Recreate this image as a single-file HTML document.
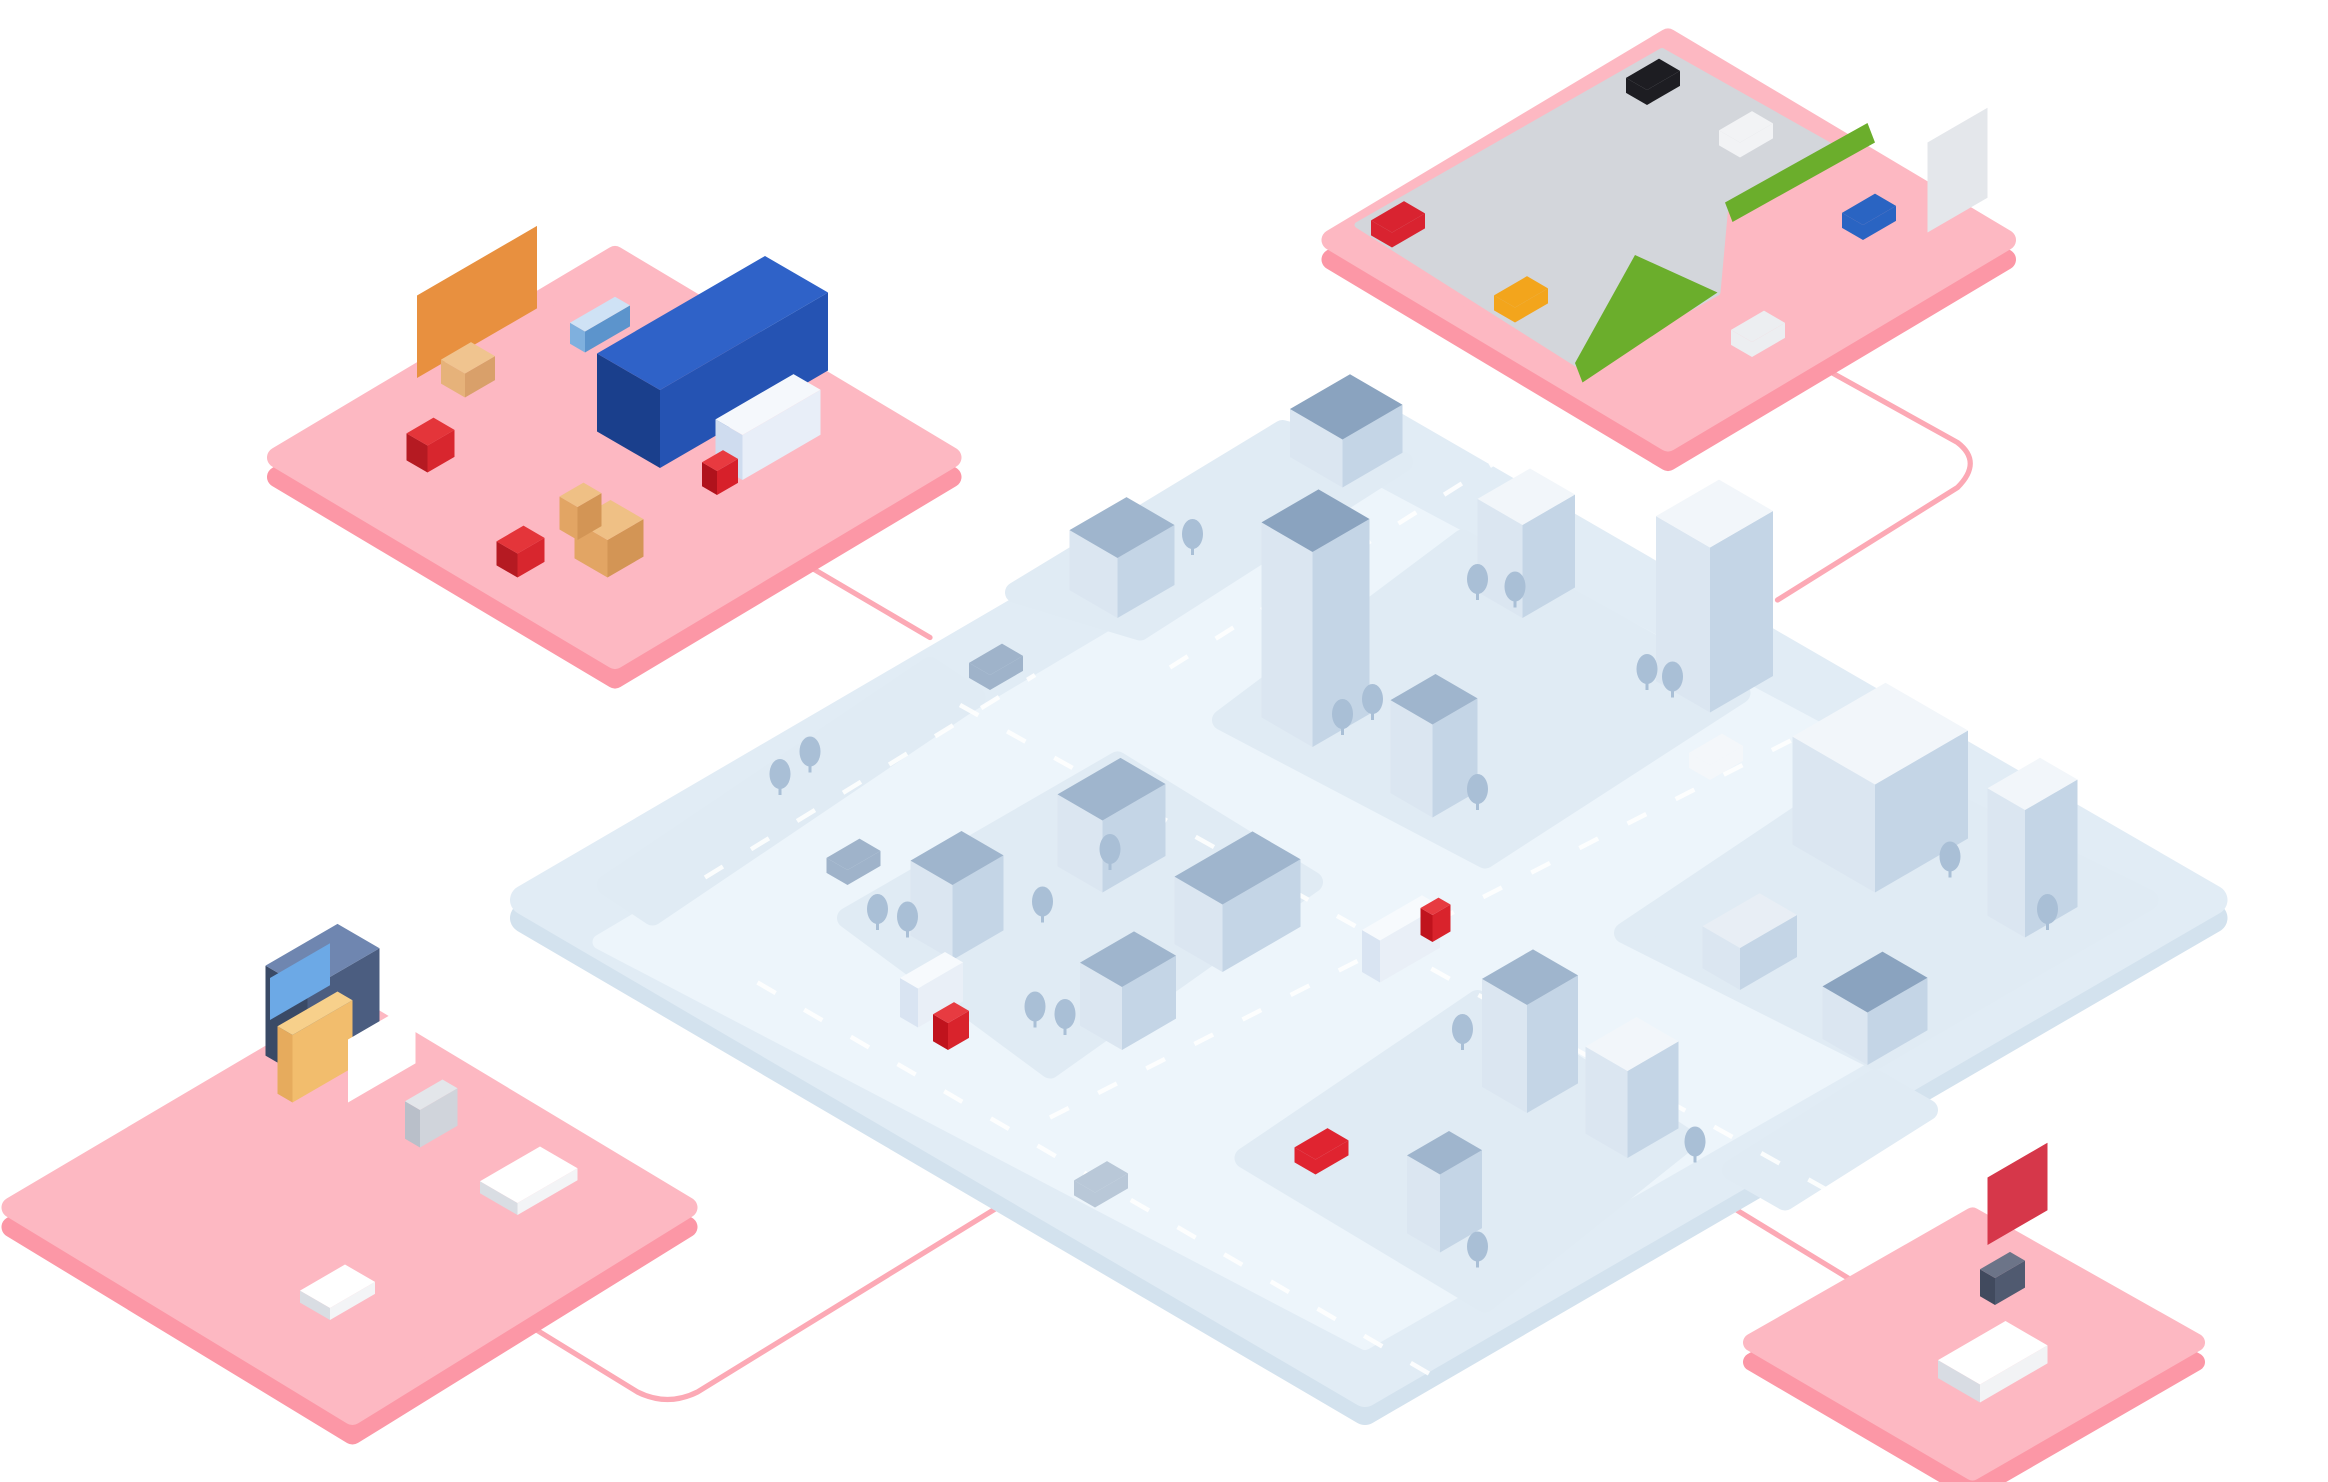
<!DOCTYPE html>
<html><head><meta charset="utf-8"><style>html,body{margin:0;padding:0;background:#fff}svg{display:block}</style></head>
<body>
<svg id="s" width="2328" height="1482" viewBox="0 0 1552 988" xmlns="http://www.w3.org/2000/svg">
<g fill="none" stroke="#fca9b5" stroke-width="3.5" stroke-linejoin="round" stroke-linecap="round">
<path d="M540 378 L620 425"/>
<path d="M1215 245 L1305 295 Q1322 308 1305 325 L1185 400"/>
<path d="M355 885 L425 928 Q445 938 465 928 L665 805"/>
<path d="M1155 805 L1232 852"/>
</g>
<!-- city -->
<polygon points="350,612 910,285 1475,612 910,940" fill="#d3e2ee" stroke="#d3e2ee" stroke-width="20" stroke-linejoin="round"/>
<polygon points="350,600 910,273 1475,600 910,928" fill="#e1ecf5" stroke="#e1ecf5" stroke-width="20" stroke-linejoin="round"/>
<polygon points="400,628 910,325 1425,600 910,895" fill="#edf5fb" stroke="#edf5fb" stroke-width="10" stroke-linejoin="round"/>
<g fill="#e0ebf4" stroke="#e0ebf4" stroke-width="14" stroke-linejoin="round">
<polygon points="405,590 620,445 650,465 435,610"/>
<polygon points="565,612 745,508 875,588 700,712"/>
<polygon points="677,395 855,287 935,308 760,420"/>
<polygon points="815,480 975,360 1160,462 990,572"/>
<polygon points="1083,622 1250,510 1432,600 1250,706"/>
<polygon points="830,772 985,667 1125,760 990,868"/>
<polygon points="1155,780 1250,720 1285,740 1190,800"/>
</g>
<g stroke="#fff" stroke-width="3" stroke-dasharray="14 22" opacity=".9">
<line x1="505" y1="655" x2="960" y2="920"/>
<line x1="640" y1="470" x2="1230" y2="800"/>
<line x1="780" y1="445" x2="1010" y2="300"/>
<line x1="700" y1="745" x2="1260" y2="460"/>
<line x1="470" y1="585" x2="690" y2="450"/>
</g>
<!-- pink platforms -->
<g stroke-linejoin="round">
<polygon points="185,318 410,184 634,318 410,452" fill="#fc97a6" stroke="#fc97a6" stroke-width="14"/>
<polygon points="185,305 410,171 634,305 410,439" fill="#fdb8c2" stroke="#fdb8c2" stroke-width="14"/>
<polygon points="888,173 1112,39 1337,173 1112,307" fill="#fc97a6" stroke="#fc97a6" stroke-width="14"/>
<polygon points="888,160 1112,26 1337,160 1112,294" fill="#fdb8c2" stroke="#fdb8c2" stroke-width="14"/>
<polygon points="8,818 235,684 458,818 235,956" fill="#fc97a6" stroke="#fc97a6" stroke-width="14"/>
<polygon points="8,805 235,671 458,805 235,943" fill="#fdb8c2" stroke="#fdb8c2" stroke-width="14"/>
<polygon points="1168,908 1315,824 1464,908 1315,994" fill="#fc97a6" stroke="#fc97a6" stroke-width="12"/>
<polygon points="1168,895 1315,811 1464,895 1315,981" fill="#fdb8c2" stroke="#fdb8c2" stroke-width="12"/>
</g>
<!-- car lot -->
<polygon points="905,150 1108,34 1225,100 1150,140 1145,195 1055,245" fill="#d3d6db" stroke="#d3d6db" stroke-width="4" stroke-linejoin="round"/>
<polygon points="1150,135 1245,82 1250,95 1155,148" fill="#6bae2c"/>
<polygon points="1090,170 1145,195 1055,255 1050,242" fill="#6bae2c"/>
<g id="objs"></g>
</svg>
<script>
var g=document.getElementById('objs'),NS='http://www.w3.org/2000/svg';
function P(pts,f){var p=document.createElementNS(NS,'polygon');p.setAttribute('points',pts.map(function(a){return a.join(',')}).join(' '));p.setAttribute('fill',f);g.appendChild(p);}
function box(x,y,aL,aR,h,cl,cr,ct){var bL=aL*0.58,bR=aR*0.58;
P([[x-aL,y-bL],[x,y],[x,y-h],[x-aL,y-bL-h]],cl);
P([[x,y],[x+aR,y-bR],[x+aR,y-bR-h],[x,y-h]],cr);
P([[x-aL,y-bL-h],[x,y-h],[x+aR,y-bR-h],[x+aR-aL,y-bL-bR-h]],ct);}
function city(x,y,aL,aR,h,roof){box(x,y,aL,aR,h,'#dbe6f1','#c4d5e6',roof||'#9fb5cd');}
function tree(x,y){var c=document.createElementNS(NS,'ellipse');c.setAttribute('cx',x);c.setAttribute('cy',y-14);c.setAttribute('rx',7);c.setAttribute('ry',10);c.setAttribute('fill','#a9bfd6');g.appendChild(c);P([[x-1,y],[x+1,y],[x+1,y-6],[x-1,y-6]],'#a9bfd6');}
function car(x,y,c){box(x,y,14,22,10,c,c,c);}
// warehouse
box(278,252,0,80,55,'#e8813a','#e8903f','#c96a25');
box(310,265,16,20,16,'#e6b27a','#d9a06a','#f0c48f');
box(440,312,42,112,52,'#1a3f8c','#2553b3','#2f62c8');
box(495,320,18,52,30,'#cfdcef','#e8eef8','#f5f8fc');
box(478,330,10,14,16,'#b0121c','#d7202a','#e83a40');
box(285,315,14,18,18,'#b51a22','#d8262e','#e4353a');
box(345,385,14,18,16,'#b51a22','#d8262e','#e4353a');
box(405,385,22,24,25,'#e2a564','#d39555','#efc085');
box(385,360,12,16,22,'#e2a564','#d39555','#efc085');
box(390,235,10,30,14,'#7fb0de','#5c94cc','#cfe2f5');
// car lot
car(1098,70,'#1d1d22');car(1160,105,'#f2f3f5');car(928,165,'#d92330');car(1010,215,'#f3a51c');car(1242,160,'#2a64c2');car(1168,238,'#eceef1');
box(1285,155,0,40,60,'#cfd3d9','#e4e7eb','#bfc4cb');
// office
box(205,720,28,48,60,'#3a4a66','#4b5d80','#6f86b0');
box(195,735,10,40,45,'#e6ab5d','#f2bd6d','#f7d08b');
box(232,735,0,45,42,'#eef2f8','#ffffff','#dde5f0');
box(180,680,0,40,28,'#5b9ad8','#6ca9e6','#8bc0f0');
box(280,765,10,25,25,'#b9bfc9','#d0d4db','#e3e6ea');
box(345,810,25,40,8,'#d9dde3','#f3f4f6','#ffffff');
box(220,880,20,30,8,'#d9dde3','#f3f4f6','#ffffff');
// control
box(1325,830,0,40,45,'#1f3f6b','#d6374a','#1f3f6b');
box(1320,935,28,45,12,'#d8dce3','#f2f3f5','#ffffff');
box(1330,870,10,20,18,'#414a5e','#505a70','#6c7488');
// city buildings
city(895,325,35,40,32,'#8aa3bf');
city(745,412,32,38,40);
city(875,498,34,38,130,'#8aa3bf');
city(1015,412,30,35,62,'#f2f6fa');
city(1140,475,36,42,110,'#f2f6fa');
city(955,545,28,30,62);
city(735,595,30,42,48);
city(815,648,32,52,45);
city(635,640,28,34,50);
city(748,700,28,36,42);
city(1250,595,55,62,72,'#f2f6fa');
city(1350,625,25,35,85,'#f2f6fa');
city(1160,660,25,38,28,'#e8eef5');
city(1245,710,30,40,35,'#8aa3bf');
city(1018,742,30,34,72);
city(1085,772,28,34,58,'#f2f6fa');
city(960,835,22,28,52);
[[520,530],[540,515],[795,370],[985,400],[1010,405],[895,490],[915,480],[985,540],[1098,460],[1115,465],[585,620],[605,625],[695,615],[740,580],[690,685],[710,690],[975,700],[1130,775],[985,845],[1300,585],[1365,620]].forEach(function(t){tree(t[0],t[1]);});
car(660,460,'#9fb3ca');car(565,590,'#9fb3ca');car(1140,520,'#f4f7fa');car(730,805,'#b9c8d8');
box(920,655,12,40,28,'#d9e4f2','#e9eff7','#f7fafd');box(955,628,8,12,18,'#c0131d','#d9232c','#e73b41');
box(612,685,12,30,26,'#d9e4f2','#e9eff7','#f7fafd');box(632,700,10,14,18,'#c0131d','#d9232c','#e73b41');
car(877,783,'#e02430');
</script>
</body></html>
